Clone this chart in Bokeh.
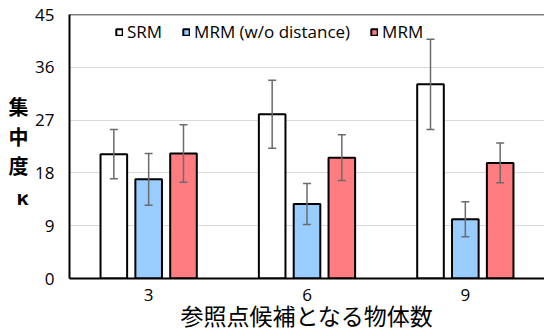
from bokeh.plotting import figure
from bokeh.models import (ColumnDataSource, FactorRange, Whisker, Span, Legend, LegendItem,
                          FixedTicker, LinearAxis)
from bokeh.transform import dodge
from bokeh.embed import file_html
from bokeh.resources import INLINE

categories = ["3", "6", "9"]
srm = [21.2, 28.0, 33.1]
srm_err = [4.2, 5.8, 7.7]
mrm_nodist = [16.9, 12.7, 10.1]
mrm_nodist_err = [4.4, 3.5, 3.0]
mrm = [21.3, 20.6, 19.7]
mrm_err = [4.9, 3.9, 3.4]
series_names = ["SRM", "MRM (w/o distance)", "MRM"]
y_ticks = [0, 9, 18, 27, 36, 45]
x_title = "参照点候補となる物体数"
y_title_chars = ["集", "中", "度", "κ"]

colors = ["#FFFFFF", "#99CCFF", "#FF7C80"]
offsets = [-0.22, 0.0, 0.22]
bar_w = 0.168
# vertical placement (in y units) of the stacked y-title characters
y_title_pos = [29.4, 24.2, 19.3, 14.0]

p = figure(x_range=FactorRange(*categories, range_padding=0), y_range=(0, 45),
           width=544, height=334, output_backend="svg", toolbar_location=None,
           min_border_left=69, min_border_right=0, min_border_top=14, min_border_bottom=54)
p.outline_line_color = None
p.background_fill_color = "white"
p.border_fill_color = "white"

LBL_FONT = "Open Sans"
items = []
for name, vals, errs, col, off in zip(series_names, [srm, mrm_nodist, mrm],
                                       [srm_err, mrm_nodist_err, mrm_err], colors, offsets):
    src = ColumnDataSource(dict(x=categories, top=vals,
                                upper=[v + e for v, e in zip(vals, errs)],
                                lower=[v - e for v, e in zip(vals, errs)]))
    r = p.vbar(x=dodge("x", off, range=p.x_range), top="top", width=bar_w, source=src,
               fill_color=col, line_color="black", line_width=2)
    w = Whisker(base=dodge("x", off, range=p.x_range), upper="upper", lower="lower", source=src,
                line_color="#6b6b6b", line_width=1.5, level="overlay")
    for h in (w.upper_head, w.lower_head):
        h.size = 8
        h.line_color = "#6b6b6b"
        h.line_width = 1.5
    p.add_layout(w)
    items.append(LegendItem(label=name, renderers=[r]))

legend = Legend(items=items, orientation="horizontal", location=(46, 235),
                glyph_width=8, glyph_height=8, label_standoff=4, spacing=20,
                padding=0, margin=0, border_line_color=None, background_fill_alpha=0,
                label_text_font=LBL_FONT, label_text_font_size="17px",
                label_text_color="black")
p.add_layout(legend, "center")

p.yaxis.ticker = FixedTicker(ticks=y_ticks)
p.ygrid.grid_line_color = "#d9d9d9"
p.ygrid.grid_line_width = 1
p.xgrid.grid_line_color = None

for ax in (p.xaxis, p.yaxis):
    ax.major_tick_line_color = None
    ax.minor_tick_line_color = None
    ax.axis_line_color = "black"
    ax.axis_line_width = 2
    ax.major_label_text_font = LBL_FONT
    ax.major_label_text_font_size = "17px"
    ax.major_label_text_color = "black"
p.yaxis.major_label_standoff = 9
p.xaxis.major_label_standoff = 4
p.xaxis.axis_label = x_title
p.xaxis.axis_label_text_font = "Noto Sans CJK JP"
p.xaxis.axis_label_text_font_size = "23px"
p.xaxis.axis_label_text_font_style = "normal"
p.xaxis.axis_label_text_color = "black"
p.xaxis.axis_label_standoff = -6

# stacked vertical y-axis title, drawn as an extra (line-less) axis
title_axis = LinearAxis(ticker=FixedTicker(ticks=y_title_pos),
                        major_label_overrides={t: c for t, c in zip(y_title_pos, y_title_chars)},
                        axis_line_color=None, major_tick_line_color=None,
                        minor_tick_line_color=None, major_label_standoff=-2,
                        major_label_text_font="Noto Sans CJK JP",
                        major_label_text_font_size="20px",
                        major_label_text_font_style="bold",
                        major_label_text_color="black")
p.add_layout(title_axis, "left")

p.add_layout(Span(location=45, dimension="width", line_color="black", line_width=1.5))

open("out.html", "w").write(file_html(p, INLINE))
